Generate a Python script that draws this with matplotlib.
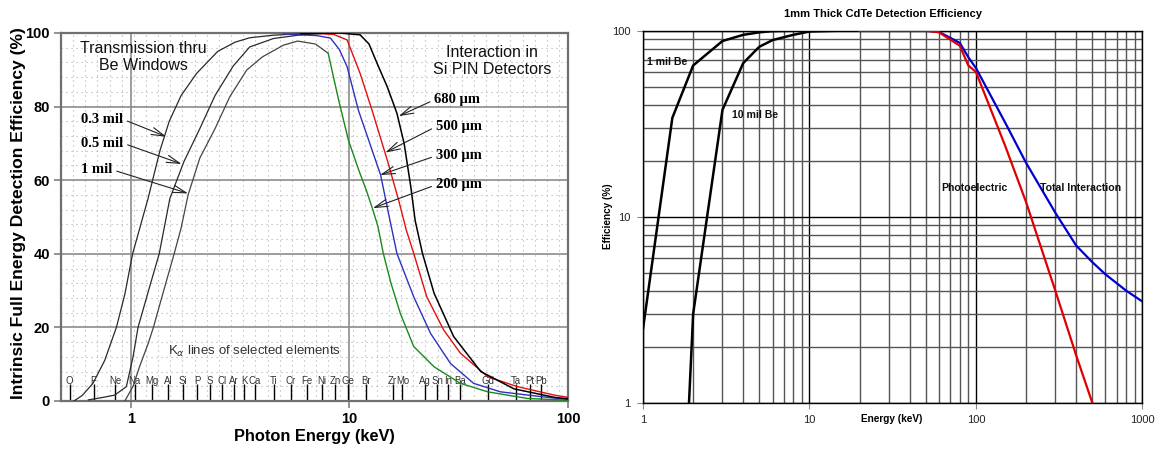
import numpy as np
import matplotlib
matplotlib.use('Agg')
import matplotlib.pyplot as plt
from matplotlib.ticker import FixedLocator, NullFormatter, FuncFormatter, LogLocator

plt.rcParams['font.family'] = ['Liberation Sans', 'DejaVu Sans']

# ---------------- Left chart data (Si PIN) ----------------
be03_e = [0.55, 0.6, 0.672, 0.76, 0.86, 0.94, 1.02, 1.2, 1.36, 1.5, 1.7, 2.0, 2.5, 3.0, 3.5, 4.5, 6.0, 8.0]
be03_v = [0, 1.5, 4.8, 11, 20, 29, 40, 55, 68, 76, 83, 89, 95, 97.5, 98.7, 99.4, 99.8, 100]
be05_e = [0.64, 0.75, 0.845, 0.955, 1.025, 1.08, 1.22, 1.35, 1.51, 1.75, 2.07, 2.43, 2.94, 3.5, 4.5, 6.0, 8.0]
be05_v = [0.3, 1.0, 1.6, 3.9, 12, 20, 31, 40, 55, 65, 74, 83, 91, 96.2, 98.5, 99.5, 100]
be10_e = [0.94, 1.025, 1.1, 1.2, 1.27, 1.4, 1.58, 1.7, 1.83, 2.07, 2.43, 2.84, 3.39, 4.0, 5.0, 5.8, 7.0, 8.0]
be10_v = [0, 4, 9.5, 15.5, 20, 29, 40, 47, 56, 66, 74, 82.7, 89.9, 93.5, 96.7, 97.8, 97, 94.5]

si200_e = [8.0, 8.93, 9.9, 11.0, 12.0, 12.8, 13.5, 14.3, 15.5, 17.1, 19.7, 24.4, 32.2, 42.9, 65, 100]
si200_v = [94.5, 81.8, 70.9, 63, 57, 52, 47.5, 40.1, 32, 23.8, 14.8, 9.3, 4.8, 2.5, 0.7, 0.2]
si300_e = [5.0, 7.1, 8.2, 9.0, 9.77, 11.0, 12.4, 13.9, 15.1, 16.5, 19.7, 23.5, 29, 37, 49, 75, 100]
si300_v = [99.7, 99.3, 98.6, 95.5, 90.8, 79, 70, 61.4, 51, 40.1, 28.3, 18.4, 10.2, 4.8, 2.5, 1.2, 0.4]
si500_e = [7.0, 8.5, 9.77, 11.2, 12.7, 14.9, 16.8, 18.2, 19.7, 22.6, 27, 32.2, 42.9, 58.7, 86.6, 100]
si500_v = [99.9, 99.6, 98.1, 89, 79, 65.5, 54.6, 46.5, 40.1, 28.3, 19.3, 13, 6.6, 3.9, 1.6, 1.0]
si680_e = [6.0, 9.0, 11.2, 12.3, 13.4, 14.9, 16.5, 17.8, 19.1, 20.0, 21.6, 24.4, 30, 39.9, 56.6, 86.6, 100]
si680_v = [99.8, 100, 99.5, 97, 91.7, 85.4, 78.2, 70, 58.2, 49, 40.1, 29.3, 17.5, 8, 3.3, 1.0, 0.6]

elements = ['O', 'F', 'Ne', 'Na', 'Mg', 'Al', 'Si', 'P', 'S', 'Cl', 'Ar', 'K', 'Ca', 'Ti', 'Cr',
            'Fe', 'Ni', 'Zn', 'Ge', 'Br', 'Zr', 'Mo', 'Ag', 'Sn', 'In', 'Ba', 'Gd', 'Ta', 'Pt', 'Pb']
element_e = [0.525, 0.677, 0.849, 1.041, 1.254, 1.487, 1.740, 2.013, 2.307, 2.622, 2.957, 3.313,
             3.691, 4.51, 5.41, 6.40, 7.48, 8.64, 9.89, 11.92, 15.77, 17.48, 22.16, 25.27, 28.4,
             32.19, 42.99, 57.53, 66.83, 74.97]

left_xticks = [1, 10, 100]
left_yticks = [0, 20, 40, 60, 80, 100]

# ---------------- Right chart data (CdTe) ----------------
be1_e = [1, 1.5, 2, 3, 4, 5, 6, 8, 10, 20]
be1_v = [2.5, 34, 65, 88, 95, 98, 99.5, 100, 100, 100]
be10m_e = [1.5, 2, 3, 4, 5, 6, 8, 10, 15, 20]
be10m_v = [0.012, 3, 37.5, 67, 82, 89, 95, 99, 100, 100]
photo_e = [20, 50, 60, 80, 90, 100, 150, 200, 300, 400, 500]
photo_v = [100, 100, 98, 83, 65, 60, 24, 12, 4.0, 1.8, 1.0]
total_e = [20, 50, 60, 80, 90, 100, 150, 200, 300, 400, 500, 600, 800, 1000]
total_v = [100, 100, 98.5, 86, 72, 63, 32, 19.5, 10.5, 7.0, 5.7, 4.9, 4.0, 3.5]

right_xticks = [1, 10, 100, 1000]
right_yticks = [1, 10, 100]

fig = plt.figure(figsize=(11.58, 4.5), dpi=100)

# ======================= LEFT =======================
ax1 = fig.add_axes([0.0527, 0.1089, 0.4378, 0.8178])
ax1.set_xscale('log')
ax1.set_xlim(0.48, 100)
ax1.set_ylim(0, 100)

ax1.xaxis.set_major_locator(FixedLocator(left_xticks))
ax1.xaxis.set_major_formatter(FuncFormatter(lambda v, p: '%g' % v))
ax1.xaxis.set_minor_locator(FixedLocator(10 ** np.arange(np.log10(0.48), 2.0, 1 / 18.0)))
ax1.xaxis.set_minor_formatter(NullFormatter())
ax1.yaxis.set_major_locator(FixedLocator(left_yticks))
ax1.yaxis.set_minor_locator(FixedLocator(np.arange(0, 101, 4)))
ax1.tick_params(which='minor', length=0)
ax1.tick_params(which='major', length=5, color='#808080', width=1.2, labelsize=10.5, pad=3)
for lab in ax1.get_xticklabels() + ax1.get_yticklabels():
    lab.set_fontweight('bold')
ax1.grid(which='minor', color='#b0b0b0', lw=0.8, ls=(0, (1, 3.5)))
ax1.grid(which='major', color='#8c8c8c', lw=1.2, ls='-')
ax1.set_axisbelow(True)
for s in ax1.spines.values():
    s.set_color('#707070')
    s.set_linewidth(1.6)

# K-alpha stubs and labels
ax1.vlines(element_e, 0, 4.6, color='black', lw=1.0, zorder=2)
for name, e in zip(elements, element_e):
    ax1.text(e, 5.5, name, ha='center', va='center', fontsize=6.9, color='#333333', zorder=3)

# Be curves
bec = '#2a2a2a'
ax1.plot(be03_e, be03_v, color=bec, lw=0.9, zorder=4)
ax1.plot(be05_e, be05_v, color=bec, lw=0.9, zorder=4)
ax1.plot(be10_e, be10_v, color='#444444', lw=0.9, zorder=4)
# Si curves
ax1.plot(si200_e, si200_v, color='#1a8a1a', lw=1.0, zorder=5)
ax1.plot(si300_e, si300_v, color='#3030c0', lw=1.0, zorder=5)
ax1.plot(si500_e, si500_v, color='#e01010', lw=1.0, zorder=5)
ax1.plot(si680_e, si680_v, color='black', lw=1.1, zorder=6)

ax1.text(0.162, 0.935, 'Transmission thru\nBe Windows', transform=ax1.transAxes,
         ha='center', va='center', fontsize=11.5, linespacing=1.2, color='#111111', zorder=7)
ax1.text(0.850, 0.924, 'Interaction in\nSi PIN Detectors', transform=ax1.transAxes,
         ha='center', va='center', fontsize=11.5, linespacing=1.2, color='#111111', zorder=7)
ax1.text(1.477, 13.4, r'K$_{\alpha}$ lines of selected elements', ha='left', va='center',
         fontsize=9.5, color='#333333', zorder=7)

arrow = dict(arrowstyle='->,head_length=0.9,head_width=0.25', lw=0.8, color='#222222',
             shrinkA=1, shrinkB=0, relpos=(1, 0.5))
lab_font = dict(family=['Liberation Serif', 'DejaVu Serif'], fontweight='bold', fontsize=10.5)
ax1.annotate('0.3 mil', xy=(1.457, 71.8), xytext=(0.594, 76.5), ha='left', va='center',
             arrowprops=arrow, zorder=8, **lab_font)
ax1.annotate('0.5 mil', xy=(1.71, 64.4), xytext=(0.594, 70.0), ha='left', va='center',
             arrowprops=arrow, zorder=8, **lab_font)
ax1.annotate('1 mil', xy=(1.83, 56.4), xytext=(0.594, 62.8), ha='left', va='center',
             arrowprops=arrow, zorder=8, **lab_font)
arrow2 = dict(arrow, relpos=(0, 0.5))
ax1.annotate('680 \u00b5m', xy=(16.8, 77.4), xytext=(24.4, 81.8), ha='left', va='center',
             arrowprops=arrow2, zorder=8, **lab_font)
ax1.annotate('500 \u00b5m', xy=(14.6, 67.5), xytext=(24.8, 74.5), ha='left', va='center',
             arrowprops=arrow2, zorder=8, **lab_font)
ax1.annotate('300 \u00b5m', xy=(13.8, 61.4), xytext=(24.8, 66.6), ha='left', va='center',
             arrowprops=arrow2, zorder=8, **lab_font)
ax1.annotate('200 \u00b5m', xy=(12.8, 52.4), xytext=(24.8, 58.7), ha='left', va='center',
             arrowprops=arrow2, zorder=8, **lab_font)

ax1.set_xlabel('Photon Energy (keV)', fontsize=11.8, fontweight='bold', labelpad=2)
fig.text(19 / 1158, 1 - 213 / 450, 'Intrinsic Full Energy Detection Efficiency (%)',
         rotation=90, ha='center', va='center', fontsize=12.6, fontweight='bold')

# ======================= RIGHT =======================
ax2 = fig.add_axes([0.5553, 0.1051, 0.4312, 0.8267])
ax2.set_xscale('log')
ax2.set_yscale('log')
ax2.set_xlim(1, 1000)
ax2.set_ylim(1, 100)
ax2.xaxis.set_major_locator(FixedLocator(right_xticks))
ax2.yaxis.set_major_locator(FixedLocator(right_yticks))
fmt = FuncFormatter(lambda v, p: '%g' % v)
ax2.xaxis.set_major_formatter(fmt)
ax2.yaxis.set_major_formatter(fmt)
ax2.xaxis.set_minor_locator(LogLocator(base=10, subs=np.arange(2, 10)))
ax2.yaxis.set_minor_locator(LogLocator(base=10, subs=np.arange(2, 10)))
ax2.xaxis.set_minor_formatter(NullFormatter())
ax2.yaxis.set_minor_formatter(NullFormatter())
ax2.tick_params(which='minor', length=0)
ax2.tick_params(which='major', length=4, color='#888888', labelsize=8, labelcolor='#222222', pad=5)
ax2.grid(which='major', color='black', lw=1.0)
ax2.grid(which='minor', color='#555555', lw=1.0)
ax2.set_axisbelow(True)
for s in ax2.spines.values():
    s.set_color('black')
    s.set_linewidth(1.0)

ax2.plot(be1_e, be1_v, color='black', lw=1.8, zorder=4)
ax2.plot(be10m_e, be10m_v, color='black', lw=1.8, zorder=4)
ax2.plot(total_e, total_v, color='#0000d0', lw=1.6, zorder=5)
ax2.plot(photo_e, photo_v, color='#e00000', lw=1.6, zorder=6)

tfont = dict(fontsize=7.6, fontweight='bold', color='#111111', zorder=7)
ax2.text(1.05, 68, '1 mil Be', ha='left', va='center', **tfont)
ax2.text(3.41, 35.2, '10 mil Be', ha='left', va='center', **tfont)
ax2.text(62.2, 14.3, 'Photoelectric', ha='left', va='center', **tfont)
ax2.text(242, 14.3, 'Total Interaction', ha='left', va='center', **tfont)

fig.text(883 / 1158, 1 - 14 / 450, '1mm Thick CdTe Detection Efficiency', ha='center',
         va='center', fontsize=8, fontweight='bold')
fig.text(892 / 1158, 1 - 419.5 / 450, 'Energy (keV)', ha='center', va='center',
         fontsize=7.2, fontweight='bold')
fig.text(608 / 1158, 1 - 216 / 450, 'Efficiency (%)', ha='center', va='center',
         rotation=90, fontsize=7.2, fontweight='bold')

fig.savefig('out.png', dpi=100)
